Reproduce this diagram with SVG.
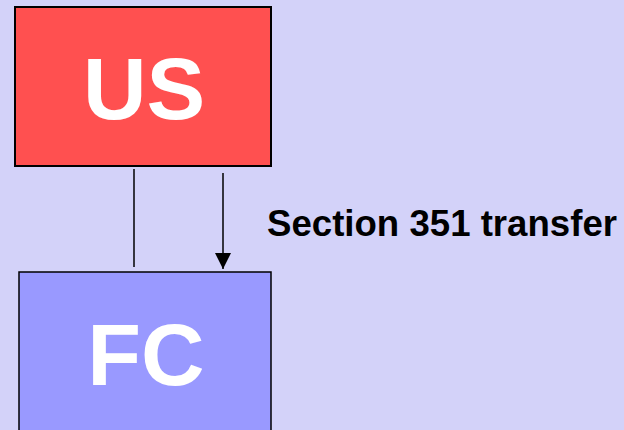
<svg xmlns="http://www.w3.org/2000/svg" width="624" height="430" viewBox="0 0 624 430">
<defs>
<style>
.box{stroke:#000;}
.big{font-family:"Liberation Sans",Arial,sans-serif;font-weight:bold;font-size:88px;fill:#fff;text-anchor:middle;}
.lbl{font-family:"Liberation Sans",Arial,sans-serif;font-weight:bold;font-size:36px;fill:#000;}
.ln{stroke:#000;stroke-width:1.5;fill:none;}
</style>
<marker id="ah" viewBox="0 0 16 16" refX="16" refY="8" markerWidth="16" markerHeight="16" markerUnits="userSpaceOnUse" orient="auto">
<path d="M0,0 L16,8 L0,16 Z" fill="#000"/>
</marker>
</defs>
<rect width="624" height="430" fill="#D3D2F9"/>
<g id="node-us">
<rect class="box" x="15" y="7" width="256" height="159" fill="#FF5050" stroke-width="2"/>
<text class="big" x="144" y="119">US</text>
</g>
<g id="node-fc">
<rect class="box" x="19" y="272" width="252" height="170" fill="#9999FF" stroke-width="1.5"/>
<text class="big" x="146" y="385">FC</text>
</g>
<g id="connectors">
<line class="ln" x1="134" y1="169" x2="134" y2="267"/>
<line class="ln" x1="223" y1="173" x2="223" y2="269" marker-end="url(#ah)"/>
</g>
<text class="lbl" x="267" y="236" textLength="350" lengthAdjust="spacingAndGlyphs">Section 351 transfer</text>
</svg>
